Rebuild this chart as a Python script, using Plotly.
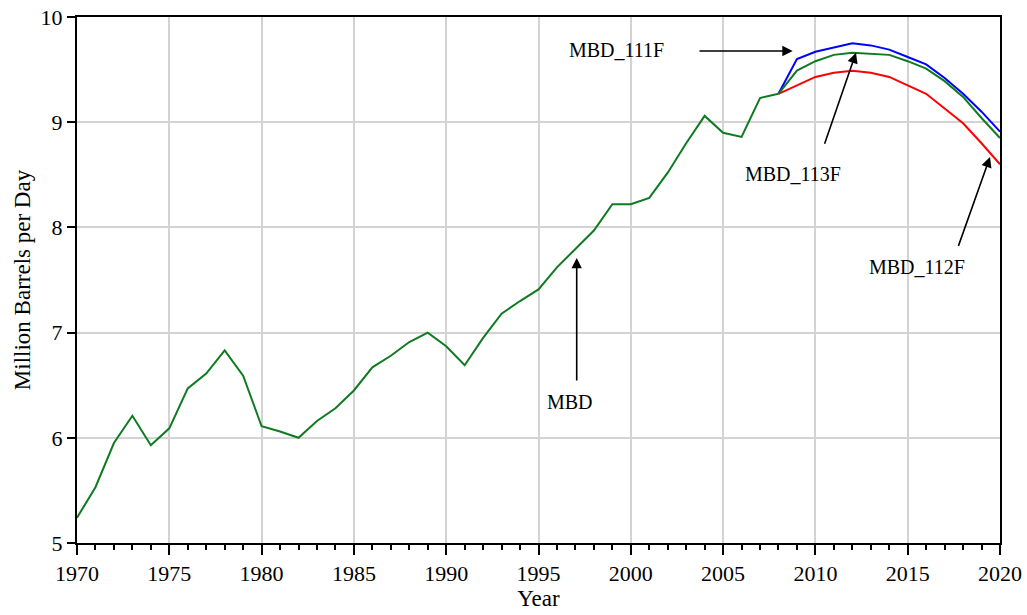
import plotly.graph_objects as go

# Historical production, 1970-2008
hist_years = list(range(1970, 2009))
mbd = [5.24, 5.53, 5.95, 6.21, 5.93, 6.09, 6.47, 6.61, 6.83, 6.59,
       6.11, 6.06, 6.00, 6.16, 6.28, 6.45, 6.67, 6.78, 6.91, 7.00,
       6.87, 6.69, 6.95, 7.18, 7.30, 7.41, 7.62, 7.79, 7.97, 8.22,
       8.22, 8.28, 8.52, 8.80, 9.06, 8.90, 8.86, 9.23, 9.27]

# Forecast scenarios, 2008-2020
fc_years = list(range(2008, 2021))
mbd_111f = [9.27, 9.60, 9.67, 9.71, 9.75, 9.73, 9.69, 9.62, 9.55, 9.42, 9.27, 9.10, 8.91]
mbd_112f = [9.27, 9.35, 9.43, 9.47, 9.49, 9.47, 9.43, 9.35, 9.27, 9.13, 8.99, 8.80, 8.60]
mbd_113f = [9.27, 9.49, 9.58, 9.64, 9.66, 9.65, 9.64, 9.58, 9.51, 9.39, 9.24, 9.04, 8.85]

GREEN = "#0f7a22"
FONT = "Times New Roman, Liberation Serif, Times, serif"

fig = go.Figure()
fig.add_trace(go.Scatter(x=fc_years, y=mbd_111f, mode="lines", name="MBD_111F",
                         line=dict(color="#0000ff", width=2)))
fig.add_trace(go.Scatter(x=fc_years, y=mbd_112f, mode="lines", name="MBD_112F",
                         line=dict(color="#ff0000", width=2)))
fig.add_trace(go.Scatter(x=fc_years, y=mbd_113f, mode="lines", name="MBD_113F",
                         line=dict(color=GREEN, width=2)))
fig.add_trace(go.Scatter(x=hist_years, y=mbd, mode="lines", name="MBD",
                         line=dict(color=GREEN, width=2)))

# Labels with arrows: (text, text x, text y, tail x, tail y, tip x, tip y)
labels = [
    ("MBD", 1996.7, 6.34, 1997.07, 6.53, 1997.07, 7.71),
    ("MBD_111F", 1999.25, 9.69, 2003.64, 9.677, 2008.77, 9.677),
    ("MBD_113F", 2008.79, 8.51, 2010.47, 8.78, 2012.2, 9.66),
    ("MBD_112F", 2015.5, 7.62, 2017.72, 7.81, 2019.46, 8.67),
]
for text, tx, ty, ax, ay, hx, hy in labels:
    fig.add_annotation(x=tx, y=ty, text=text, showarrow=False,
                       font=dict(family=FONT, size=20, color="black"))
    fig.add_annotation(x=hx, y=hy, ax=ax, ay=ay, axref="x", ayref="y",
                       xref="x", yref="y", text="", showarrow=True,
                       arrowhead=2, arrowsize=1.3, arrowwidth=1.6,
                       arrowcolor="black")

fig.update_layout(
    width=1027, height=615,
    margin=dict(l=77, r=27, t=17, b=72),
    paper_bgcolor="white", plot_bgcolor="white",
    showlegend=False,
    font=dict(family=FONT, size=22, color="black"),
    xaxis=dict(
        range=[1970, 2020], tick0=1970, dtick=5,
        ticks="outside", ticklen=10, tickwidth=2, tickcolor="black",
        minor=dict(dtick=1, ticks="outside", ticklen=5, tickwidth=1.5,
                   tickcolor="black", showgrid=False),
        showgrid=True, gridcolor="#d3d3d3", gridwidth=2,
        showline=True, linecolor="black", linewidth=2, mirror=True,
        zeroline=False, automargin=False,
        title=dict(text="Year", font=dict(family=FONT, size=23), standoff=4),
        tickfont=dict(family=FONT, size=22),
    ),
    yaxis=dict(
        range=[5, 10], dtick=1,
        ticks="outside", ticklen=8, tickwidth=2, tickcolor="black",
        showgrid=True, gridcolor="#d3d3d3", gridwidth=2,
        showline=True, linecolor="black", linewidth=2, mirror=True,
        zeroline=False, automargin=False,
        title=dict(text="Million Barrels per Day", font=dict(family=FONT, size=23), standoff=4),
        tickfont=dict(family=FONT, size=22),
    ),
)

fig.write_html("out.html")
